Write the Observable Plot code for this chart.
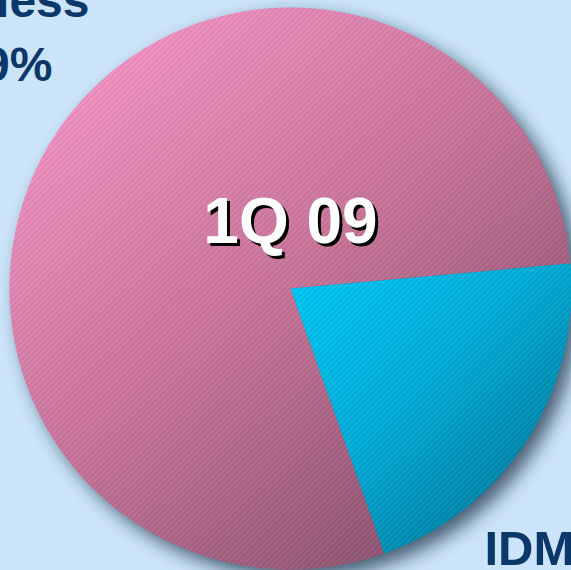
<!DOCTYPE html>
<html><head><meta charset="utf-8">
<script src="https://cdn.jsdelivr.net/npm/d3@7"></script>
<script src="https://cdn.jsdelivr.net/npm/@observablehq/plot@0.6"></script>
<style>
html,body{margin:0;padding:0;background:#cce4f9;overflow:hidden;width:571px;height:570px}
#chart svg{display:block}
</style>
</head><body><div id="chart"></div>
<script>
// ---- data ----
const segments = ["Fabless", "IDM"];
const shares = [79, 21];
const shareLabels = ["79%", "21%"];
const period = "1Q 09";

// ---- pie geometry (angles from d3.pie) ----
const startDeg = 160.5;
const slices = d3.pie().sort(null)
  .startAngle(startDeg * Math.PI / 180)
  .endAngle((startDeg + 360) * Math.PI / 180)(shares);

function slicePolygon(s, name) {
  const pts = [{seg: name, x: 0, y: 0}];
  const n = Math.max(8, Math.ceil((s.endAngle - s.startAngle) / (2 * Math.PI) * 400));
  for (let k = 0; k <= n; k++) {
    const a = s.startAngle + (s.endAngle - s.startAngle) * k / n;
    pts.push({seg: name, x: Math.sin(a), y: Math.cos(a)});
  }
  return pts;
}
const polys = slices.map((s, i) => slicePolygon(s, segments[i]));

const font = "'Liberation Sans', Arial, sans-serif";
const navy = "#0b3868";
const lbl = {frameAnchor: "top-left", lineAnchor: "top", fontWeight: "bold", fill: navy, fontFamily: font};

const plot = Plot.plot({
  width: 571, height: 570, margin: 0,
  x: {domain: [-1, 1], range: [9, 571], axis: null},
  y: {domain: [-1, 1], range: [569, 7], axis: null},
  style: {background: "#cce4f9", overflow: "visible", fontFamily: font},
  marks: [
    Plot.dot([0], {x: 0, y: 0, r: 281, fill: "#1d3148", fillOpacity: 0.75, stroke: "none"}),
    Plot.line(polys[0], {x: "x", y: "y", fill: "url(#gradPink)", stroke: "none", curve: "linear-closed"}),
    Plot.line(polys[1], {x: "x", y: "y", fill: "url(#gradCyan)", stroke: "none", curve: "linear-closed"}),
    Plot.line(polys[0], {x: "x", y: "y", fill: "url(#hatch)", stroke: "none", curve: "linear-closed"}),
    Plot.line(polys[1], {x: "x", y: "y", fill: "url(#hatch)", stroke: "none", curve: "linear-closed"}),
    Plot.text([period], {text: d => d, frameAnchor: "top", dx: 4.5 + 3, dy: 197 + 3, lineAnchor: "top",
      fontSize: 64, fontWeight: "bold", fill: "#000", fontFamily: font}),
    Plot.text([period], {text: d => d, frameAnchor: "top", dx: 4.5, dy: 197, lineAnchor: "top",
      fontSize: 64, fontWeight: "bold", fill: "#fff", fontFamily: font}),
    Plot.text([segments[0]], {...lbl, text: d => d, dx: 89, dy: -18, textAnchor: "end", fontSize: 48}),
    Plot.text([shareLabels[0]], {...lbl, text: d => d, dx: 52, dy: 46, textAnchor: "end", fontSize: 48}),
    Plot.text([segments[1]], {...lbl, text: d => d, dx: 484, dy: 530, textAnchor: "start", fontSize: 49}),
    Plot.text([shareLabels[1]], {...lbl, text: d => d, dx: 484, dy: 594, textAnchor: "start", fontSize: 49})
  ]
});

// defs: gradients, hatch pattern, shadow filter
const svg = d3.select(plot);
const defs = svg.insert("defs", ":first-child");
const gp = defs.append("linearGradient").attr("id", "gradPink")
  .attr("x1", 0.1).attr("y1", 0.05).attr("x2", 0.85).attr("y2", 0.95);
gp.append("stop").attr("offset", 0).attr("stop-color", "#f796c8");
gp.append("stop").attr("offset", 0.5).attr("stop-color", "#c87499");
gp.append("stop").attr("offset", 1).attr("stop-color", "#85506c");
const gc = defs.append("linearGradient").attr("id", "gradCyan")
  .attr("x1", 0).attr("y1", 0.05).attr("x2", 0.9).attr("y2", 1);
gc.append("stop").attr("offset", 0).attr("stop-color", "#00c8f6");
gc.append("stop").attr("offset", 0.45).attr("stop-color", "#02acd8");
gc.append("stop").attr("offset", 1).attr("stop-color", "#006f90");
const pat = defs.append("pattern").attr("id", "hatch").attr("patternUnits", "userSpaceOnUse")
  .attr("width", 4).attr("height", 4).attr("patternTransform", "rotate(-45)");
pat.append("rect").attr("width", 4).attr("height", 1).attr("fill", "#000").attr("fill-opacity", 0.07);
pat.append("rect").attr("y", 2).attr("width", 4).attr("height", 1).attr("fill", "#fff").attr("fill-opacity", 0.05);
const f = defs.append("filter").attr("id", "shadow").attr("x", "-20%").attr("y", "-20%").attr("width", "140%").attr("height", "140%");
f.append("feGaussianBlur").attr("stdDeviation", 9);
svg.select("g[aria-label=dot]").attr("filter", "url(#shadow)").attr("transform", "translate(9,9)");

document.getElementById("chart").appendChild(plot);
</script>
</body></html>
